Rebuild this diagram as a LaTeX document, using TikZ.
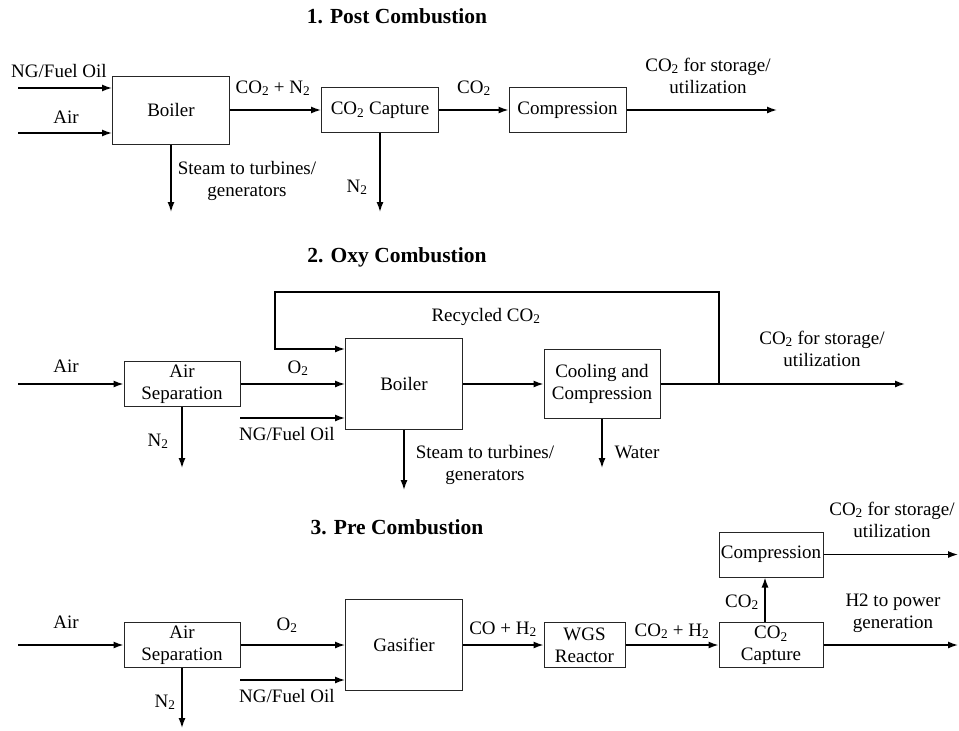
\documentclass[tikz,border=0pt]{standalone}
\usepackage{fontspec}
\setmainfont{Liberation Serif}
\usepackage{tikz}
\usetikzlibrary{arrows.meta}

\tikzset{
  unit/.style={draw=black!85, line width=1pt, inner sep=0pt, align=center,
    font=\fontsize{19}{22}\selectfont},
  lbl/.style={inner sep=0pt, anchor=base, align=center,
    font=\fontsize{19}{22}\selectfont},
  ttl/.style={inner sep=0pt, anchor=base,
    font=\fontsize{21.5}{24}\selectfont\bfseries}
}

\begin{document}
\begin{tikzpicture}[x=1pt,y=-1pt,line width=1.4pt,>={Latex[length=10pt,width=7pt]}]
\useasboundingbox (0,0) rectangle (959,731);

\node [ttl] (tpost) at (397,23) {1. Post Combustion};
\node [unit,minimum width=117pt,minimum height=68pt] (boilA) at (171,110) {Boiler};
\node [unit,minimum width=117pt,minimum height=45pt] (captA) at (380,110) {CO\textsubscript{2} Capture};
\node [unit,minimum width=117pt,minimum height=45pt] (compA) at (567.5,110) {Compression};

\coordinate (ngA) at (18,88);
\coordinate (airA) at (18,133);
\coordinate (steamA) at (171,212);
\coordinate (n2A) at (380,212);
\coordinate (outA) at (777,110);

\draw[->] (ngA) -- (ngA -| boilA.west);
\draw[->] (airA) -- (airA -| boilA.west);
\draw[->] (boilA) -- (captA);
\draw[->] (captA) -- (compA);
\draw[->] (compA) -- (outA);
\draw[->] (boilA) -- (steamA);
\draw[->] (captA) -- (n2A);

\node [lbl] (lngA) at (59,77) {NG/Fuel Oil};
\node [lbl] (lairA) at (66,123) {Air};
\node [lbl] (lfluA) at (273,93) {CO\textsubscript{2} + N\textsubscript{2}};
\node [lbl] (lco2A) at (474,93) {CO\textsubscript{2}};
\node [lbl] (lstoA) at (708,93) {CO\textsubscript{2} for storage/\\utilization};
\node [lbl] (lsteamA) at (247,196) {Steam to turbines/\\generators};
\node [lbl] (ln2A) at (357,192) {N\textsubscript{2}};

\node [ttl] (toxy) at (397,262) {2. Oxy Combustion};
\node [unit,minimum width=116pt,minimum height=45pt] (asepB) at (182,384) {Air\\Separation};
\node [unit,minimum width=117pt,minimum height=91pt] (boilB) at (404,384) {Boiler};
\node [unit,minimum width=116pt,minimum height=69pt] (coolB) at (602,384) {Cooling and\\Compression};

\coordinate (airB) at (18,384);
\coordinate (ngB) at (240,418);
\coordinate (n2B) at (182,468);
\coordinate (steamB) at (404,490);
\coordinate (waterB) at (602,468);
\coordinate (jB) at (719,384);
\coordinate (topB) at (719,292);
\coordinate (recB) at (275,349);
\coordinate (outB) at (905,384);

\draw[->] (airB) -- (asepB);
\draw[->] (asepB) -- (boilB);
\draw[->] (ngB) -- (ngB -| boilB.west);
\draw[->] (asepB) -- (n2B);
\draw[->] (boilB) -- (steamB);
\draw[->] (boilB) -- (coolB);
\draw[->] (coolB) -- (waterB);
\draw[->] (coolB) -- (outB);
\draw[->] (jB) -- (topB) -| (recB) -- (recB -| boilB.west);

\node [lbl] (lairB) at (66,372) {Air};
\node [lbl] (lo2B) at (298,373) {O\textsubscript{2}};
\node [lbl] (lngB) at (287,440) {NG/Fuel Oil};
\node [lbl] (ln2B) at (158,446) {N\textsubscript{2}};
\node [lbl] (lrecB) at (486,321) {Recycled CO\textsubscript{2}};
\node [lbl] (lstoB) at (822,366) {CO\textsubscript{2} for storage/\\utilization};
\node [lbl] (lwaterB) at (637,458) {Water};
\node [lbl] (lsteamB) at (485,480) {Steam to turbines/\\generators};

\node [ttl] (tpre) at (397,534) {3. Pre Combustion};
\node [unit,minimum width=116pt,minimum height=45pt] (asepC) at (182,645) {Air\\Separation};
\node [unit,minimum width=117pt,minimum height=91pt] (gasC) at (404,645) {Gasifier};
\node [unit,minimum width=81pt,minimum height=45pt] (wgsC) at (584.5,645) {WGS\\Reactor};
\node [unit,minimum width=104pt,minimum height=45pt] (captC) at (771,645) {CO\textsubscript{2}\\Capture};
\node [unit,minimum width=104pt,minimum height=45pt] (compC) at (771,554.5) {Compression};

\coordinate (airC) at (18,645);
\coordinate (ngC) at (240,680);
\coordinate (n2C) at (182,728);
\coordinate (co2outC) at (958,554.5);
\coordinate (h2outC) at (958,645);

\draw[->] (airC) -- (asepC);
\draw[->] (asepC) -- (gasC);
\draw[->] (ngC) -- (ngC -| gasC.west);
\draw[->] (asepC) -- (n2C);
\draw[->] (gasC) -- (wgsC);
\draw[->] (wgsC) -- (captC);
\draw[->] ([xshift=-6pt]captC.north) -- ([xshift=-6pt]compC.south);
\draw[->] (compC) -- (co2outC);
\draw[->] (captC) -- (h2outC);

\node [lbl] (lairC) at (66,628) {Air};
\node [lbl] (lo2C) at (287,630) {O\textsubscript{2}};
\node [lbl] (lngC) at (287,702) {NG/Fuel Oil};
\node [lbl] (ln2C) at (165,707) {N\textsubscript{2}};
\node [lbl] (lsynC) at (503,634) {CO + H\textsubscript{2}};
\node [lbl] (lshiftC) at (672,636) {CO\textsubscript{2} + H\textsubscript{2}};
\node [lbl] (lco2C) at (742,607) {CO\textsubscript{2}};
\node [lbl] (lstoC) at (892,537) {CO\textsubscript{2} for storage/\\utilization};
\node [lbl] (lh2C) at (893,628) {H2 to power\\generation};
\end{tikzpicture}
\end{document}
